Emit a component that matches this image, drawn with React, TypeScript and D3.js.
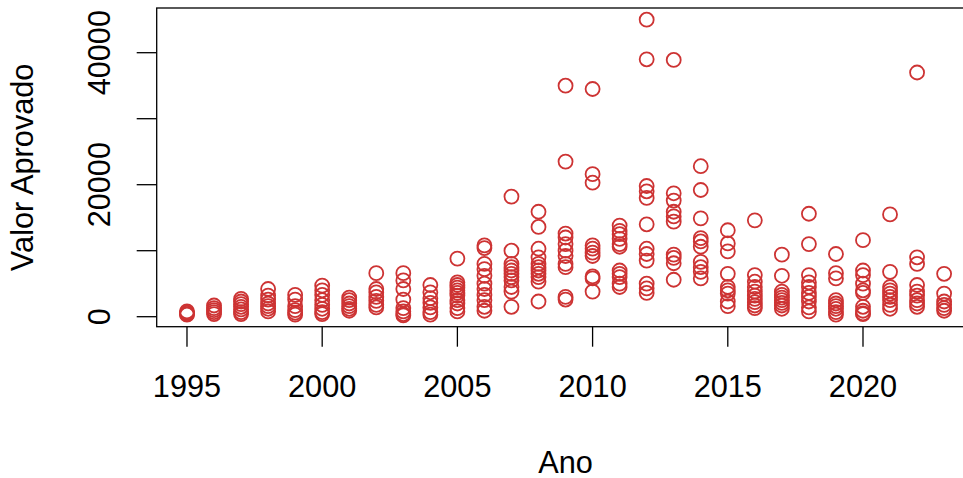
import React from "react";
import * as d3 from "d3";

const anos = d3.range(1995, 2024);
const valores: number[][] = [
  [800, 600, 400, 300],
  [1700, 1300, 1000, 700, 400],
  [2700, 2300, 1900, 1500, 1100, 700, 400],
  [4200, 3200, 2600, 2000, 1600, 1200, 800],
  [3300, 2600, 1600, 1000, 600, 300],
  [4700, 4000, 3300, 2500, 1800, 1200, 700, 400],
  [2900, 2500, 2000, 1600, 1200, 900],
  [6600, 4200, 3700, 3000, 2400, 1800, 1400],
  [6600, 5500, 4200, 2600, 1300, 800, 400, 200],
  [4800, 3700, 2800, 2100, 1400, 700, 300],
  [8800, 5200, 4800, 4400, 4000, 3600, 3200, 2500, 2000, 1300, 800],
  [10800, 10400, 8000, 7200, 6200, 5000, 4200, 3300, 2500, 1500, 900],
  [18200, 10000, 8000, 7500, 7000, 6500, 6000, 5500, 4500, 3800, 1500],
  [15900, 13600, 10300, 9000, 8000, 7500, 7000, 6500, 6000, 5300, 2300],
  [35000, 23500, 12600, 12000, 11000, 10000, 9200, 8000, 7500, 3000, 2600],
  [34500, 21600, 20300, 10800, 10300, 9700, 9200, 6100, 5800, 3800],
  [13800, 13000, 12500, 11800, 11000, 10600, 7000, 6500, 6000, 5000, 4500],
  [45000, 39000, 19800, 19000, 18000, 14000, 10300, 9500, 8500, 5000, 4300, 3600],
  [38900, 18700, 17600, 15900, 15200, 14400, 9400, 8900, 8100, 5600],
  [22800, 19200, 14900, 11900, 11400, 10600, 8300, 7500, 6800, 5800],
  [13100, 11100, 9900, 6500, 4500, 4000, 3500, 2300, 1600],
  [14600, 6300, 5300, 4500, 3800, 3200, 2700, 2200, 1700, 1300],
  [9400, 6200, 3800, 3300, 2900, 2500, 2100, 1700, 1200],
  [15600, 11000, 6300, 5200, 4500, 3600, 3000, 2300, 1400, 800],
  [9500, 6600, 5800, 2500, 2000, 1600, 1200, 700, 300],
  [11600, 7000, 6300, 5000, 4000, 3600, 1500, 900, 500, 400],
  [15500, 6800, 4500, 4000, 3500, 3000, 2500, 1800, 1200],
  [37000, 9000, 8000, 4800, 3800, 3200, 2500, 2000, 1500],
  [6500, 3500, 2300, 1800, 1300, 900],
];
const xTicks = [1995, 2000, 2005, 2010, 2015, 2020];
const yTicks = [0, 10000, 20000, 30000, 40000];
const yLabels = [0, 20000, 40000];

const W = 963;
const H = 478;
const FONT = "'Liberation Sans', Arial, Helvetica, sans-serif";
const FS = 30.7;
const COLOR = "#CD3333";

export default function App() {
  const x = d3.scaleLinear().domain([1995 - 1.12, 2023 + 1.12]).range([156.7, 974.4]);
  const y = d3.scaleLinear().domain([0, 40000]).range([316.7, 52.7]);
  const top = 8;
  const bottom = 326.7;
  const left = x.range()[0];
  const right = x.range()[1];
  const pts = anos.flatMap((a, i) => valores[i].map((v) => ({ a, v })));
  return (
    <svg width={W} height={H} style={{ position: "absolute", left: 0, top: 0, background: "#fff" }}>
      <rect x={0} y={0} width={W} height={H} fill="#fff" />
      <rect x={left} y={top} width={right - left} height={bottom - top} fill="none" stroke="#000" strokeWidth={1.3} />
      {pts.map((p, i) => (
        <circle key={i} cx={x(p.a)} cy={y(p.v)} r={7} fill="none" stroke={COLOR} strokeWidth={1.8} />
      ))}
      {xTicks.map((t) => (
        <g key={t}>
          <line x1={x(t)} x2={x(t)} y1={bottom} y2={bottom + 20} stroke="#000" strokeWidth={1.3} />
          <text x={x(t)} y={397} textAnchor="middle" fontFamily={FONT} fontSize={FS}>{t}</text>
        </g>
      ))}
      {yTicks.map((t) => (
        <line key={t} x1={left - 20} x2={left} y1={y(t)} y2={y(t)} stroke="#000" strokeWidth={1.3} />
      ))}
      {yLabels.map((t) => (
        <text key={t} transform={`translate(110,${y(t)}) rotate(-90)`} textAnchor="middle" fontFamily={FONT} fontSize={FS}>{t}</text>
      ))}
      <text x={(left + right) / 2} y={472.7} textAnchor="middle" fontFamily={FONT} fontSize={FS}>Ano</text>
      <text transform={`translate(33,${(top + bottom) / 2}) rotate(-90)`} textAnchor="middle" fontFamily={FONT} fontSize={FS}>Valor Aprovado</text>
    </svg>
  );
}
